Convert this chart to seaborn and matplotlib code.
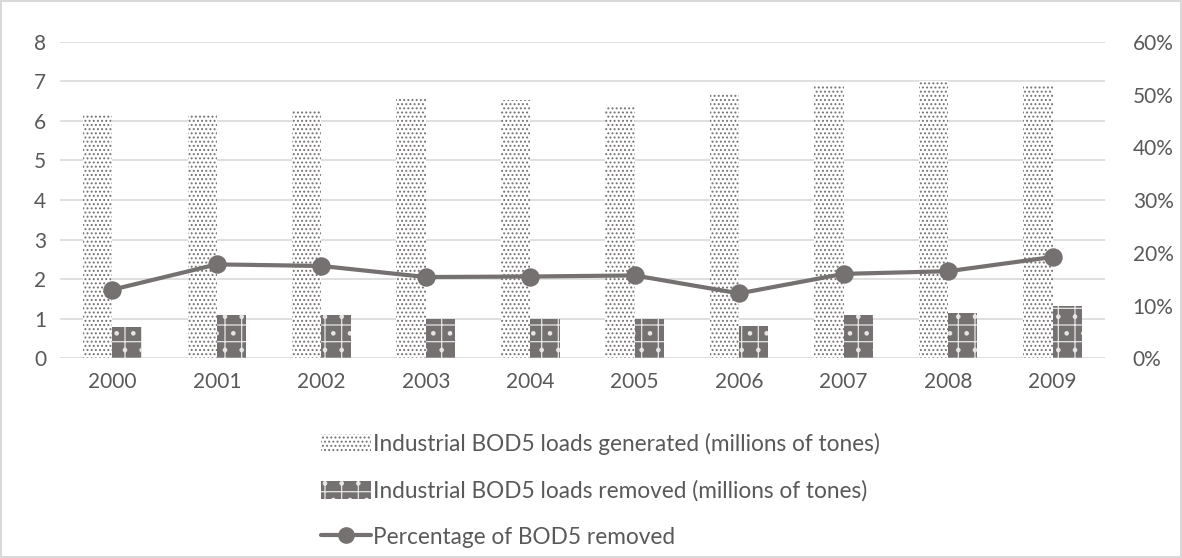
import numpy as np
import pandas as pd
import matplotlib
matplotlib.use("Agg")
import matplotlib.pyplot as plt
import seaborn as sns
from matplotlib.patches import Patch
from matplotlib.lines import Line2D
from matplotlib.ticker import PercentFormatter

sns.set_style("white")
plt.rcParams['font.family'] = ['Lato', 'DejaVu Sans']
plt.rcParams['hatch.linewidth'] = 0.9

# Data
years = ['2000', '2001', '2002', '2003', '2004', '2005', '2006', '2007', '2008', '2009']
generated = [6.15, 6.15, 6.28, 6.6, 6.53, 6.4, 6.7, 6.9, 7.0, 6.9]
removed = [0.8, 1.1, 1.1, 1.0, 1.0, 0.98, 0.82, 1.1, 1.15, 1.33]
pct_removed = [13.0, 17.8, 17.5, 15.4, 15.5, 15.7, 12.3, 16.0, 16.5, 19.2]

lab_gen = "Industrial BOD5 loads generated (millions of tones)"
lab_rem = "Industrial BOD5 loads removed (millions of tones)"
lab_pct = "Percentage of BOD5 removed"

dark = '#767171'
text_col = '#595959'
grid_col = '#d9d9d9'

df = pd.DataFrame({
    'year': years * 2,
    'value': generated + removed,
    'series': [lab_gen] * len(years) + [lab_rem] * len(years),
})

fig = plt.figure(figsize=(11.82, 5.58), dpi=100)
fig.patch.set_edgecolor(grid_col)
fig.patch.set_linewidth(1.5)
ax = fig.add_axes([0.0508, 0.358, 0.884, 0.567])

sns.barplot(data=df, x='year', y='value', hue='series', ax=ax,
            width=0.56, palette=['white', dark], legend=False)

n = len(years)
for i, bar in enumerate(ax.patches[:2 * n]):
    if i < n:
        bar.set_facecolor('white')
        bar.set_edgecolor(dark)
        bar.set_hatch('....')
    else:
        bar.set_facecolor(dark)
        bar.set_edgecolor('#e6e6e6')
        bar.set_hatch('+.')
    bar.set_linewidth(0)

ax.set_ylim(0, 8)
ax.set_yticks(range(0, 9))
ax.yaxis.grid(True, color=grid_col, linewidth=1.2)
ax.set_axisbelow(True)
ax.set_xlabel("")
ax.set_ylabel("")
for s in ax.spines.values():
    s.set_visible(False)
ax.tick_params(axis='both', length=0, colors=text_col, labelsize=15)
ax.tick_params(axis='x', pad=10)
ax.tick_params(axis='y', pad=10)

ax2 = ax.twinx()
sns.pointplot(x=years, y=pct_removed, ax=ax2, color=dark,
              markers='o', linewidth=3, markersize=11)
ax2.set_ylim(0, 60)
ax2.set_yticks(range(0, 61, 10))
ax2.yaxis.set_major_formatter(PercentFormatter(decimals=0))
for s in ax2.spines.values():
    s.set_visible(False)
ax2.tick_params(axis='y', length=0, colors=text_col, labelsize=15, pad=20)
ax2.set_ylabel("")
ax.set_xlim(-0.5, n - 0.5)
ax2.set_xlim(-0.5, n - 0.5)

handles = [
    Patch(facecolor='white', edgecolor=dark, hatch='....', linewidth=0, label=lab_gen),
    Patch(facecolor=dark, edgecolor='#e6e6e6', hatch='+.', linewidth=0, label=lab_rem),
    Line2D([0], [0], color=dark, linewidth=3, marker='o', markersize=11, label=lab_pct),
]
leg = fig.legend(handles=handles, loc='upper center', bbox_to_anchor=(0.508, 0.26),
                 ncol=1, frameon=False, fontsize=16.3, labelspacing=1.1,
                 handlelength=2.2, handleheight=0.9, handletextpad=0.1)
for t in leg.get_texts():
    t.set_color(text_col)

fig.savefig("out.png", dpi=100)
